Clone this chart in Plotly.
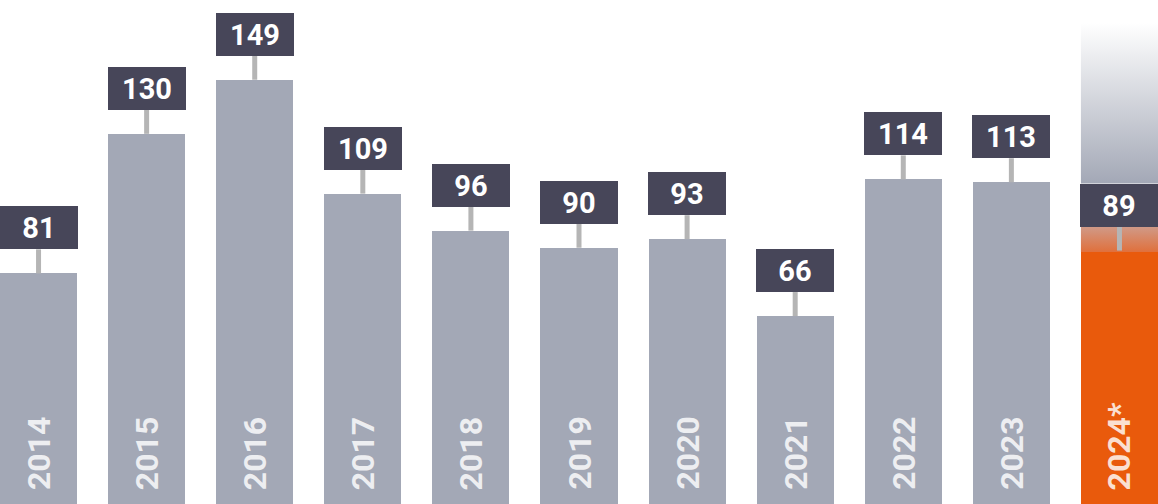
import plotly.graph_objects as go

years = ['2014', '2015', '2016', '2017', '2018', '2019', '2020', '2021', '2022', '2023', '2024*']
values = [81, 130, 149, 109, 96, 90, 93, 66, 114, 113, 89]
projection_top = 169  # faded column above the partial 2024 bar

GRAY = '#a3a8b6'
ORANGE = '#e95a0c'
BOX = '#474659'
STEM = '#b5b5b5'

W, H = 1158, 504
Y_MAX = 177.0
PX = H / Y_MAX  # pixels per unit
BAR_W = 0.713
STEM_PX = 24
BOX_PX = 43
X_RANGE = [-0.3565, 10.3565]

xs = list(range(len(years)))
colors = [GRAY] * (len(years) - 1) + [ORANGE]

fig = go.Figure()

# faded projection column for the last (partial) year
i_last = xs[-1]
v_last = values[-1]
box_bottom = v_last + STEM_PX / PX
box_top = box_bottom + BOX_PX / PX
x0, x1 = i_last - BAR_W / 2, i_last + BAR_W / 2

fig.add_trace(go.Scatter(
    x=[x0, x1, x1, x0, x0], y=[v_last - 0.5, v_last - 0.5, box_bottom, box_bottom, v_last - 0.5],
    mode='lines', line=dict(width=0), fill='toself',
    fillgradient=dict(type='vertical', colorscale=[[0, '#e0703c'], [1, '#d09a88']]),
    hoverinfo='skip', showlegend=False))
fig.add_trace(go.Scatter(
    x=[x0, x1, x1, x0, x0], y=[box_top, box_top, projection_top, projection_top, box_top],
    mode='lines', line=dict(width=0), fill='toself',
    fillgradient=dict(type='vertical', colorscale=[[0, '#a3a8b6'], [1, '#ffffff']]),
    hoverinfo='skip', showlegend=False))

fig.add_trace(go.Bar(
    x=xs, y=values, width=BAR_W, marker=dict(color=colors, line=dict(width=0)),
    hoverinfo='skip', showlegend=False))

shapes = []
annotations = []
for x, v, yr in zip(xs, values, years):
    shapes.append(dict(type='line', xref='x', yref='y', xsizemode='pixel', ysizemode='pixel',
                       xanchor=x, yanchor=v, x0=0, x1=0, y0=0, y1=STEM_PX,
                       line=dict(color=STEM, width=5)))
    annotations.append(dict(x=x, y=v, xref='x', yref='y', yanchor='bottom', xanchor='center',
                            yshift=STEM_PX, showarrow=False, text=str(v),
                            width=78, height=BOX_PX, bgcolor=BOX, borderpad=0, borderwidth=0,
                            valign='middle',
                            font=dict(family='Roboto', size=29, color='white', weight='bold')))
    annotations.append(dict(x=x, y=0, xref='x', yref='y', yanchor='bottom', xanchor='center',
                            yshift=12, showarrow=False, text=yr, textangle=-90,
                            font=dict(family='Roboto', size=32, color='rgba(255,255,255,0.82)',
                                      weight='bold')))

fig.update_layout(
    width=W, height=H, margin=dict(l=0, r=0, t=0, b=0),
    paper_bgcolor='white', plot_bgcolor='white',
    xaxis=dict(range=X_RANGE, visible=False, fixedrange=True),
    yaxis=dict(range=[0, Y_MAX], visible=False, fixedrange=True),
    shapes=shapes, annotations=annotations, showlegend=False, bargap=0)

fig.write_html('out.html', config={'displayModeBar': False},
               post_script="document.body.style.margin='0px';document.body.style.overflow='hidden';")
